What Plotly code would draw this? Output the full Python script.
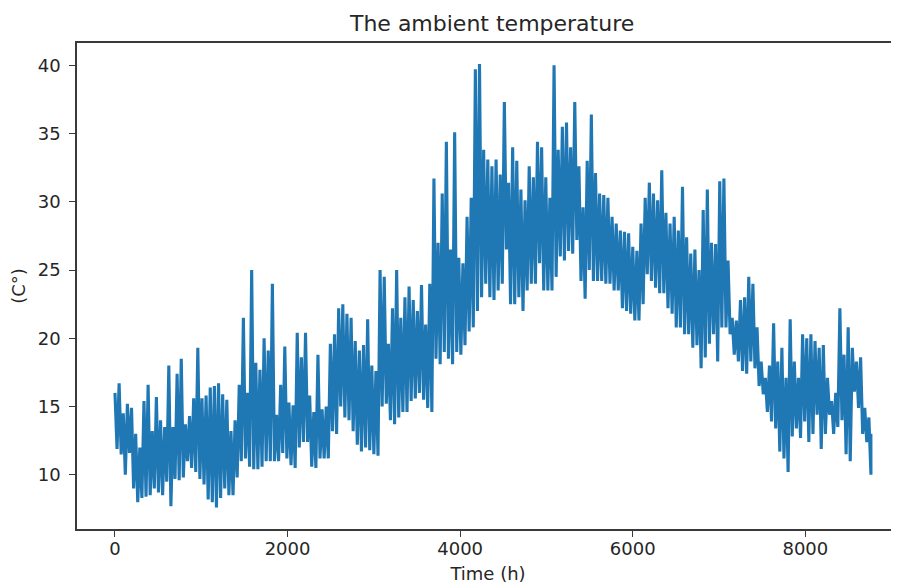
import plotly.graph_objects as go

# Envelope of the hourly ambient temperature, every 48 h:
# daily-high style peaks (hi) and troughs (lo), in °C.
step_hours = 48
hi = [16.0, 16.7, 14.5, 15.2, 14.9, 13.0, 12.0, 15.4, 16.6, 13.2,
      15.7, 14.0, 13.5, 18.0, 13.5, 17.4, 18.5, 13.7, 14.3, 15.6,
      19.3, 15.6, 15.8, 16.4, 16.5, 16.7, 15.9, 15.5, 13.2, 14.0,
      16.6, 21.5, 16.0, 25.0, 18.2, 17.7, 20.0, 19.1, 24.0, 14.4,
      16.6, 19.4, 15.3, 15.1, 20.4, 18.6, 20.4, 15.8, 14.6, 18.8,
      14.8, 15.0, 19.6, 20.3, 22.2, 22.5, 21.8, 21.5, 19.8, 19.1,
      19.5, 21.4, 18.0, 17.6, 25.0, 24.5, 19.6, 22.2, 25.0, 21.5,
      23.0, 23.8, 22.8, 22.0, 23.9, 21.0, 24.0, 31.7, 27.0, 30.6,
      34.4, 26.5, 35.1, 25.9, 25.5, 28.9, 30.3, 39.7, 40.1, 33.8,
      33.1, 32.6, 33.1, 32.0, 37.3, 31.4, 34.0, 33.0, 30.9, 30.1,
      32.6, 31.8, 34.4, 34.0, 31.8, 30.3, 40.0, 33.8, 35.5, 35.8,
      34.0, 37.3, 32.6, 29.6, 33.0, 36.4, 32.1, 30.6, 30.5, 30.3,
      28.9, 28.4, 27.9, 27.8, 27.7, 26.7, 26.4, 28.4, 30.3, 31.4,
      30.6, 30.1, 32.3, 29.2, 28.4, 28.9, 27.9, 31.1, 27.4, 26.2,
      26.5, 25.0, 29.4, 30.9, 27.0, 26.9, 31.5, 31.7, 25.7, 21.5,
      21.3, 22.8, 23.0, 24.5, 24.0, 20.8, 18.3, 17.1, 18.0, 21.1,
      18.3, 19.3, 17.1, 21.4, 18.3, 17.1, 20.3, 20.0, 20.3, 19.8,
      19.3, 19.5, 17.1, 15.4, 16.0, 22.2, 18.8, 20.8, 19.3, 18.3,
      18.6, 14.9, 14.2]
lo = [11.9, 11.5, 10.0, 11.6, 9.0, 8.0, 8.3, 8.4, 8.5, 9.0,
      8.7, 8.5, 9.5, 7.7, 9.7, 9.6, 9.8, 11.0, 10.5, 10.2,
      9.7, 9.3, 8.2, 8.0, 7.6, 8.3, 9.0, 8.5, 8.5, 9.8,
      11.0, 11.2, 10.6, 10.4, 10.4, 10.6, 11.0, 11.0, 11.0, 11.0,
      11.6, 11.2, 10.7, 10.5, 12.0, 12.4, 12.4, 10.6, 10.5, 11.2,
      11.2, 11.2, 13.2, 13.0, 15.0, 14.2, 14.0, 13.2, 12.2, 11.7,
      12.0, 11.8, 11.5, 11.4, 15.0, 15.2, 14.0, 13.7, 14.2, 14.6,
      14.6, 15.4, 15.6, 16.0, 15.5, 14.9, 14.6, 18.5, 18.1, 19.0,
      18.5, 18.1, 19.0, 18.8, 19.5, 20.5, 20.8, 22.0, 23.0, 24.0,
      23.0, 22.8, 23.5, 24.0, 26.5, 22.5, 22.5, 23.0, 22.0, 23.5,
      24.0, 24.0, 25.5, 23.5, 23.5, 23.5, 24.5, 26.0, 25.7, 26.4,
      26.2, 27.2, 24.2, 22.9, 25.0, 24.2, 24.2, 24.2, 24.0, 24.0,
      23.5, 23.5, 22.2, 22.0, 21.8, 21.3, 21.3, 22.5, 24.7, 24.2,
      23.7, 23.3, 23.3, 22.2, 21.8, 20.8, 20.8, 20.3, 20.3, 19.3,
      19.5, 17.8, 18.6, 19.6, 20.3, 18.3, 20.8, 20.8, 20.3, 18.8,
      18.3, 17.6, 17.4, 18.3, 17.8, 16.5, 15.9, 14.6, 13.9, 13.4,
      11.7, 11.2, 10.2, 12.8, 13.4, 12.7, 13.9, 12.4, 13.0, 14.4,
      11.9, 13.0, 14.4, 13.0, 13.5, 14.0, 11.5, 11.0, 16.1, 14.9,
      13.0, 12.4, 10.0]
last_hour = 8759
last_value = 13.0

x_ticks = [0, 2000, 4000, 6000, 8000]
y_ticks = [10, 15, 20, 25, 30, 35, 40]

hours, temps = [], []
for i, (h_v, l_v) in enumerate(zip(hi, lo)):
    hours += [i * step_hours, i * step_hours + step_hours // 2]
    temps += [h_v, l_v]
hours.append(last_hour)
temps.append(last_value)

font_family = "DejaVu Sans"
ink = "#262626"
spine = "#3a3a3a"

# The page body has an 8 px default margin, so the figure is 8 px smaller
# than the window and all offsets are measured from (8, 8).
W, H = 891, 576

fig = go.Figure(go.Scatter(
    x=hours, y=temps, mode="lines",
    line=dict(color="#1f77b4", width=3.1, simplify=False),
    hoverinfo="skip",
))

fig.update_layout(
    width=W, height=H,
    margin=dict(l=69, r=0, t=35, b=55, pad=0),
    paper_bgcolor="white", plot_bgcolor="white",
    showlegend=False,
    font=dict(family=font_family, size=18, color=ink),
    title=dict(text="The ambient temperature", x=0.505, xref="paper",
               xanchor="center", y=1 - 15 / H, yref="container",
               yanchor="middle", font=dict(size=22, color=ink)),
)
fig.update_xaxes(
    range=[-440, 9085], tickvals=x_ticks, ticks="outside", ticklen=6,
    tickwidth=1.3, tickcolor=spine, showline=True, linecolor=spine,
    linewidth=1.6, mirror=True, showgrid=False, zeroline=False,
    ticklabelstandoff=-3, automargin=False,
    title=dict(text="Time (h)", standoff=15, font=dict(size=18)),
)
fig.update_yaxes(
    range=[6.03, 41.63], tickvals=y_ticks, ticks="outside", ticklen=6,
    tickwidth=1.3, tickcolor=spine, showline=True, linecolor=spine,
    linewidth=1.6, mirror=False, showgrid=False, zeroline=False,
    ticklabelstandoff=5, automargin=False,
    title=dict(text="(C°)", standoff=7, font=dict(size=18)),
)

fig.write_html("out.html")
